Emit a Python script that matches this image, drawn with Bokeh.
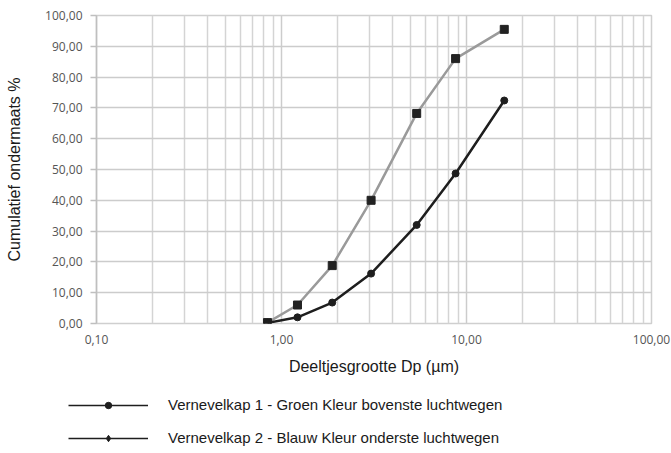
from bokeh.plotting import figure
from bokeh.layouts import column, row
from bokeh.models import FixedTicker, Legend, LegendItem, ColumnDataSource
from bokeh.embed import file_html
from bokeh.resources import INLINE

# ---- data ----
particle_size = [0.84, 1.22, 1.88, 3.05, 5.38, 8.73, 16.0]
series1_values = [0.2, 2.0, 6.8, 16.2, 32.0, 48.7, 72.4]     # black, circles
series2_values = [0.3, 6.0, 18.8, 40.0, 68.2, 86.0, 95.5]    # grey, squares
series_names = ["Vernevelkap 1 - Groen Kleur bovenste luchtwegen",
                "Vernevelkap 2 - Blauw Kleur onderste luchtwegen"]
x_major_ticks = [0.1, 1, 10, 100]
x_tick_labels = ["0,10", "1,00", "10,00", "100,00"]
x_minor_ticks = [m * d for d in [0.1, 1, 10] for m in range(2, 10)]
y_ticks = [0, 10, 20, 30, 40, 50, 60, 70, 80, 90, 100]
y_tick_labels = ["0,00", "10,00", "20,00", "30,00", "40,00", "50,00",
                 "60,00", "70,00", "80,00", "90,00", "100,00"]
x_title = "Deeltjesgrootte Dp (µm)"
y_title = "Cumulatief ondermaats %"

p = figure(width=671, height=380, x_axis_type="log",
           x_range=(0.1, 100), y_range=(0, 100),
           output_backend="svg", toolbar_location=None,
           min_border_left=96, min_border_right=20,
           min_border_top=15, min_border_bottom=57)
p.background_fill_color = "white"
p.border_fill_color = "white"
p.outline_line_color = "#cfcfcf"
p.outline_line_width = 1.5

# axes
p.xaxis.ticker = FixedTicker(ticks=x_major_ticks, minor_ticks=x_minor_ticks)
p.xaxis.major_label_overrides = {t: l for t, l in zip(x_major_ticks, x_tick_labels)}
p.yaxis.ticker = FixedTicker(ticks=y_ticks)
p.yaxis.major_label_overrides = {t: l for t, l in zip(y_ticks, y_tick_labels)}

for ax in (p.xaxis[0], p.yaxis[0]):
    ax.major_label_text_font = "Open Sans"
    ax.major_label_text_font_size = "12px"
    ax.major_label_text_color = "#555555"
    ax.axis_label_text_font = "Liberation Sans"
    ax.axis_label_text_font_style = "normal"
    ax.axis_label_text_color = "#1a1a1a"
    ax.minor_tick_line_color = None

p.xaxis.axis_label = x_title
p.xaxis.axis_label_text_font_size = "16px"
p.xaxis.axis_line_color = None
p.xaxis.major_tick_line_color = None
p.xaxis.major_label_standoff = 5
p.xaxis.axis_label_standoff = 11

p.yaxis.axis_label = y_title
p.yaxis.axis_label_text_font_size = "16px"
p.yaxis.axis_line_color = "#bfbfbf"
p.yaxis.axis_line_width = 1.5
p.yaxis.major_tick_line_color = "#bfbfbf"
p.yaxis.major_tick_line_width = 1.5
p.yaxis.major_tick_out = 6
p.yaxis.major_tick_in = 0
p.yaxis.major_label_standoff = 8
p.yaxis.axis_label_standoff = 19

# grid
p.xgrid.grid_line_color = "#cccccc"
p.xgrid.grid_line_width = 1.5
p.xgrid.minor_grid_line_color = "#d4d4d4"
p.xgrid.minor_grid_line_width = 1.5
p.ygrid.grid_line_color = "#cccccc"
p.ygrid.grid_line_width = 1.5

# data
src = ColumnDataSource(dict(x=particle_size, s1=series1_values, s2=series2_values))
p.line("x", "s2", source=src, line_color="#9a9a9a", line_width=2.5)
p.scatter("x", "s2", source=src, marker="square", size=8,
          fill_color="#222222", line_color="#222222")
p.line("x", "s1", source=src, line_color="#1e1e1e", line_width=2.5)
p.scatter("x", "s1", source=src, marker="circle", size=7,
          fill_color="#1e1e1e", line_color="#1e1e1e")

# ---- legend panel below the chart (styled as in the reference) ----
# proxies use the series data on a range that keeps them out of view
lg = figure(width=671, height=73, x_range=(0.1, 100), y_range=(-1000, -900),
            x_axis_type="log",
            output_backend="svg", toolbar_location=None,
            x_axis_location=None, y_axis_location=None,
            min_border=0, min_border_left=0, min_border_right=0,
            min_border_top=0, min_border_bottom=0)
lg.grid.visible = False
lg.outline_line_color = None
lg.background_fill_color = "white"
lg.border_fill_color = "white"

l1 = lg.line("x", "s1", source=src, line_color="#1e1e1e", line_width=1.5)
m1 = lg.scatter("x", "s1", source=src, marker="circle", size=9,
                fill_color="#1e1e1e", line_color="#1e1e1e")
l2 = lg.line("x", "s2", source=src, line_color="#1e1e1e", line_width=1.5)
m2 = lg.scatter("x", "s2", source=src, marker="diamond", size=10,
                fill_color="#1e1e1e", line_color="#1e1e1e")

legend = Legend(items=[LegendItem(label=series_names[0], renderers=[l1, m1]),
                       LegendItem(label=series_names[1], renderers=[l2, m2])],
                location=(68, 7), orientation="vertical",
                glyph_width=80, glyph_height=16, spacing=16, label_standoff=20,
                padding=0, margin=0,
                border_line_color=None, background_fill_alpha=0,
                label_text_font="Liberation Sans", label_text_font_size="15px",
                label_text_color="#1a1a1a", label_height=16)
lg.add_layout(legend, "center")

layout = column(p, row(lg, spacing=0), spacing=0)
open("out.html", "w").write(file_html(layout, INLINE))
